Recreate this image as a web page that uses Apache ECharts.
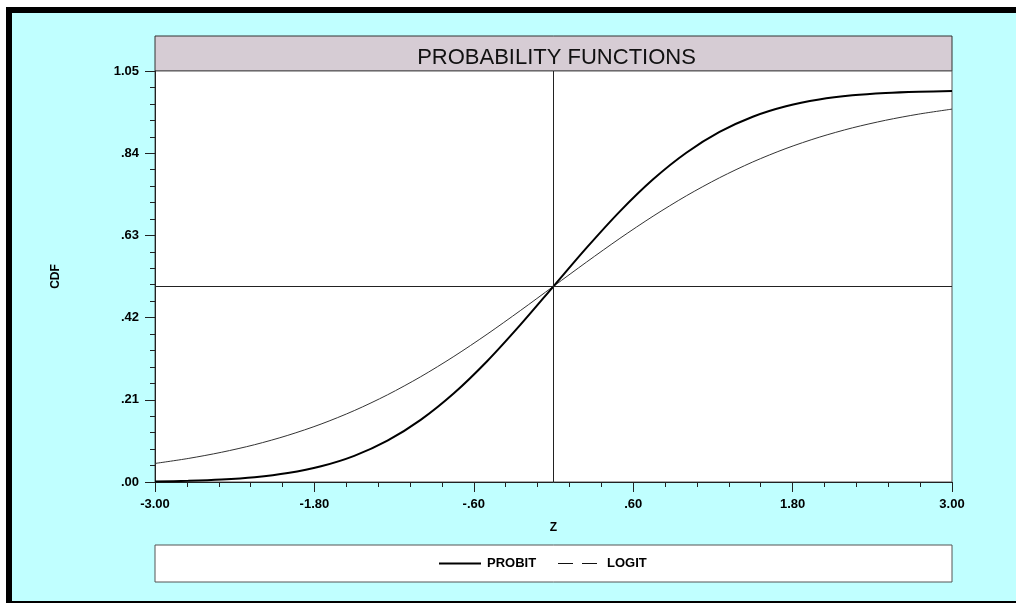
<!DOCTYPE html>
<html>
<head>
<meta charset="utf-8">
<script src="https://cdn.jsdelivr.net/npm/echarts@6/dist/echarts.min.js"></script>
<style>
  html, body { margin: 0; padding: 0; background: #ffffff; }
  #chart { width: 1017px; height: 603px; }
</style>
</head>
<body>
<div id="chart"></div>
<script>
// Z values where both cumulative distribution curves are sampled
const zValues = [-3.00, -2.75, -2.50, -2.25, -2.00, -1.75, -1.50, -1.25, -1.00, -0.75, -0.50, -0.25,
                 0.00, 0.25, 0.50, 0.75, 1.00, 1.25, 1.50, 1.75, 2.00, 2.25, 2.50, 2.75, 3.00];

// PROBIT (normal) CDF values
const probitValues = [0.0013, 0.0030, 0.0062, 0.0122, 0.0228, 0.0401, 0.0668, 0.1056, 0.1587, 0.2266, 0.3085, 0.4013,
                      0.5000, 0.5987, 0.6915, 0.7734, 0.8413, 0.8944, 0.9332, 0.9599, 0.9772, 0.9878, 0.9938, 0.9970, 0.9987];

// LOGIT (logistic) CDF values
const logitValues = [0.0474, 0.0601, 0.0759, 0.0953, 0.1192, 0.1480, 0.1824, 0.2227, 0.2689, 0.3208, 0.3775, 0.4378,
                     0.5000, 0.5622, 0.6225, 0.6792, 0.7311, 0.7773, 0.8176, 0.8520, 0.8808, 0.9047, 0.9241, 0.9399, 0.9526];

// Axis ranges and tick steps
const zMin = -3.0, zMax = 3.0, zStep = 1.2;
const cdfMin = 0.0, cdfMax = 1.05, cdfStep = 0.21;

const titleText = 'PROBABILITY FUNCTIONS';
const xName = 'Z';
const yName = 'CDF';
const seriesNames = ['PROBIT', 'LOGIT'];

// The x axis runs on an offset scale (z - zMin) so ticks fall on whole steps from 0
const toAxis = z => z - zMin;
const fmt = v => {
  let s = (Math.abs(v) < 1e-9 ? 0 : v).toFixed(2);
  return s.replace(/^(-?)0\./, '$1.');
};

const probitData = zValues.map((z, i) => [toAxis(z), probitValues[i]]);
const logitData = zValues.map((z, i) => [toAxis(z), logitValues[i]]);

const font = '"Liberation Sans", Arial, Helvetica, sans-serif';
const gl = 155, gr = 952, gt = 71, gb = 482;
const legendY = 563.5;
const legendText = { fontFamily: font, fontSize: 13, fontWeight: 'bold', fill: '#000000', textVerticalAlign: 'middle' };

const chart = echarts.init(document.getElementById('chart'), null, { renderer: 'canvas' });

chart.setOption({
  backgroundColor: '#ffffff',
  animation: false,
  textStyle: { fontFamily: font },
  title: {
    text: titleText,
    left: (gl + gr) / 2 - 2,
    top: 42,
    textAlign: 'center',
    textStyle: { fontFamily: font, fontSize: 22, fontWeight: 'normal', color: '#111111' }
  },
  graphic: [
    // frame: black top and left bars, cyan panel
    { type: 'rect', z: -10, shape: { x: 6, y: 7, width: 1010, height: 596 }, style: { fill: '#000000' } },
    { type: 'rect', z: -9, shape: { x: 12, y: 13, width: 1004, height: 588 }, style: { fill: '#c0ffff' } },
    // title band above the plot
    { type: 'rect', z: -5, shape: { x: gl, y: 36, width: gr - gl, height: gt - 36 },
      style: { fill: '#d6ccd4', stroke: '#333333', lineWidth: 1 } },
    // legend box with its keys
    { type: 'rect', z: -5, shape: { x: gl, y: 545, width: gr - gl, height: 37 },
      style: { fill: '#ffffff', stroke: '#555555', lineWidth: 1 } },
    { type: 'line', shape: { x1: 439, y1: legendY, x2: 481, y2: legendY },
      style: { stroke: '#000000', lineWidth: 2 } },
    { type: 'text', x: 487, y: legendY, style: Object.assign({ text: seriesNames[0] }, legendText) },
    { type: 'line', shape: { x1: 558, y1: legendY, x2: 600, y2: legendY },
      style: { stroke: '#111111', lineWidth: 1, lineDash: [15, 9] } },
    { type: 'text', x: 607, y: legendY, style: Object.assign({ text: seriesNames[1] }, legendText) }
  ],
  grid: {
    left: gl, right: 1017 - gr, top: gt, bottom: 603 - gb,
    show: true, backgroundColor: '#ffffff', borderColor: '#555555', borderWidth: 1
  },
  xAxis: {
    type: 'value',
    min: toAxis(zMin), max: toAxis(zMax), interval: zStep,
    name: xName,
    nameLocation: 'middle',
    nameGap: 40,
    nameTextStyle: { fontFamily: font, fontSize: 12, fontWeight: 'bold', color: '#000000' },
    axisLine: { show: true, onZero: false, lineStyle: { color: '#222222', width: 1 } },
    axisTick: { show: true, inside: false, length: 10, lineStyle: { color: '#222222' } },
    minorTick: { show: true, splitNumber: 5, length: 5, lineStyle: { color: '#222222' } },
    splitLine: { show: false },
    axisLabel: {
      margin: 16,
      fontFamily: font, fontSize: 13, fontWeight: 'bold', color: '#000000',
      formatter: v => fmt(v + zMin)
    }
  },
  yAxis: {
    type: 'value',
    min: cdfMin, max: cdfMax, interval: cdfStep,
    name: yName,
    nameLocation: 'middle',
    nameGap: 93,
    nameRotate: 90,
    nameTextStyle: { fontFamily: font, fontSize: 12, fontWeight: 'bold', color: '#000000' },
    axisLine: { show: true, onZero: false, lineStyle: { color: '#222222', width: 1 } },
    axisTick: { show: true, inside: false, length: 10, lineStyle: { color: '#222222' } },
    minorTick: { show: true, splitNumber: 5, length: 5, lineStyle: { color: '#222222' } },
    splitLine: { show: false },
    axisLabel: {
      margin: 16,
      fontFamily: font, fontSize: 13, fontWeight: 'bold', color: '#000000',
      formatter: v => fmt(v)
    }
  },
  series: [
    {
      name: seriesNames[0],
      type: 'line',
      data: probitData,
      showSymbol: false,
      symbol: 'none',
      smooth: 0.3,
      lineStyle: { color: '#000000', width: 2 },
      itemStyle: { color: '#000000' },
      z: 4,
      markLine: {
        silent: true,
        symbol: 'none',
        label: { show: false },
        lineStyle: { color: '#222222', width: 1, type: 'solid' },
        data: [
          { xAxis: toAxis(0) },
          { yAxis: 0.5 }
        ]
      }
    },
    {
      name: seriesNames[1],
      type: 'line',
      data: logitData,
      showSymbol: false,
      symbol: 'none',
      smooth: 0.3,
      lineStyle: { color: '#333333', width: 1 },
      itemStyle: { color: '#333333' },
      z: 3
    }
  ]
});
</script>
</body>
</html>
